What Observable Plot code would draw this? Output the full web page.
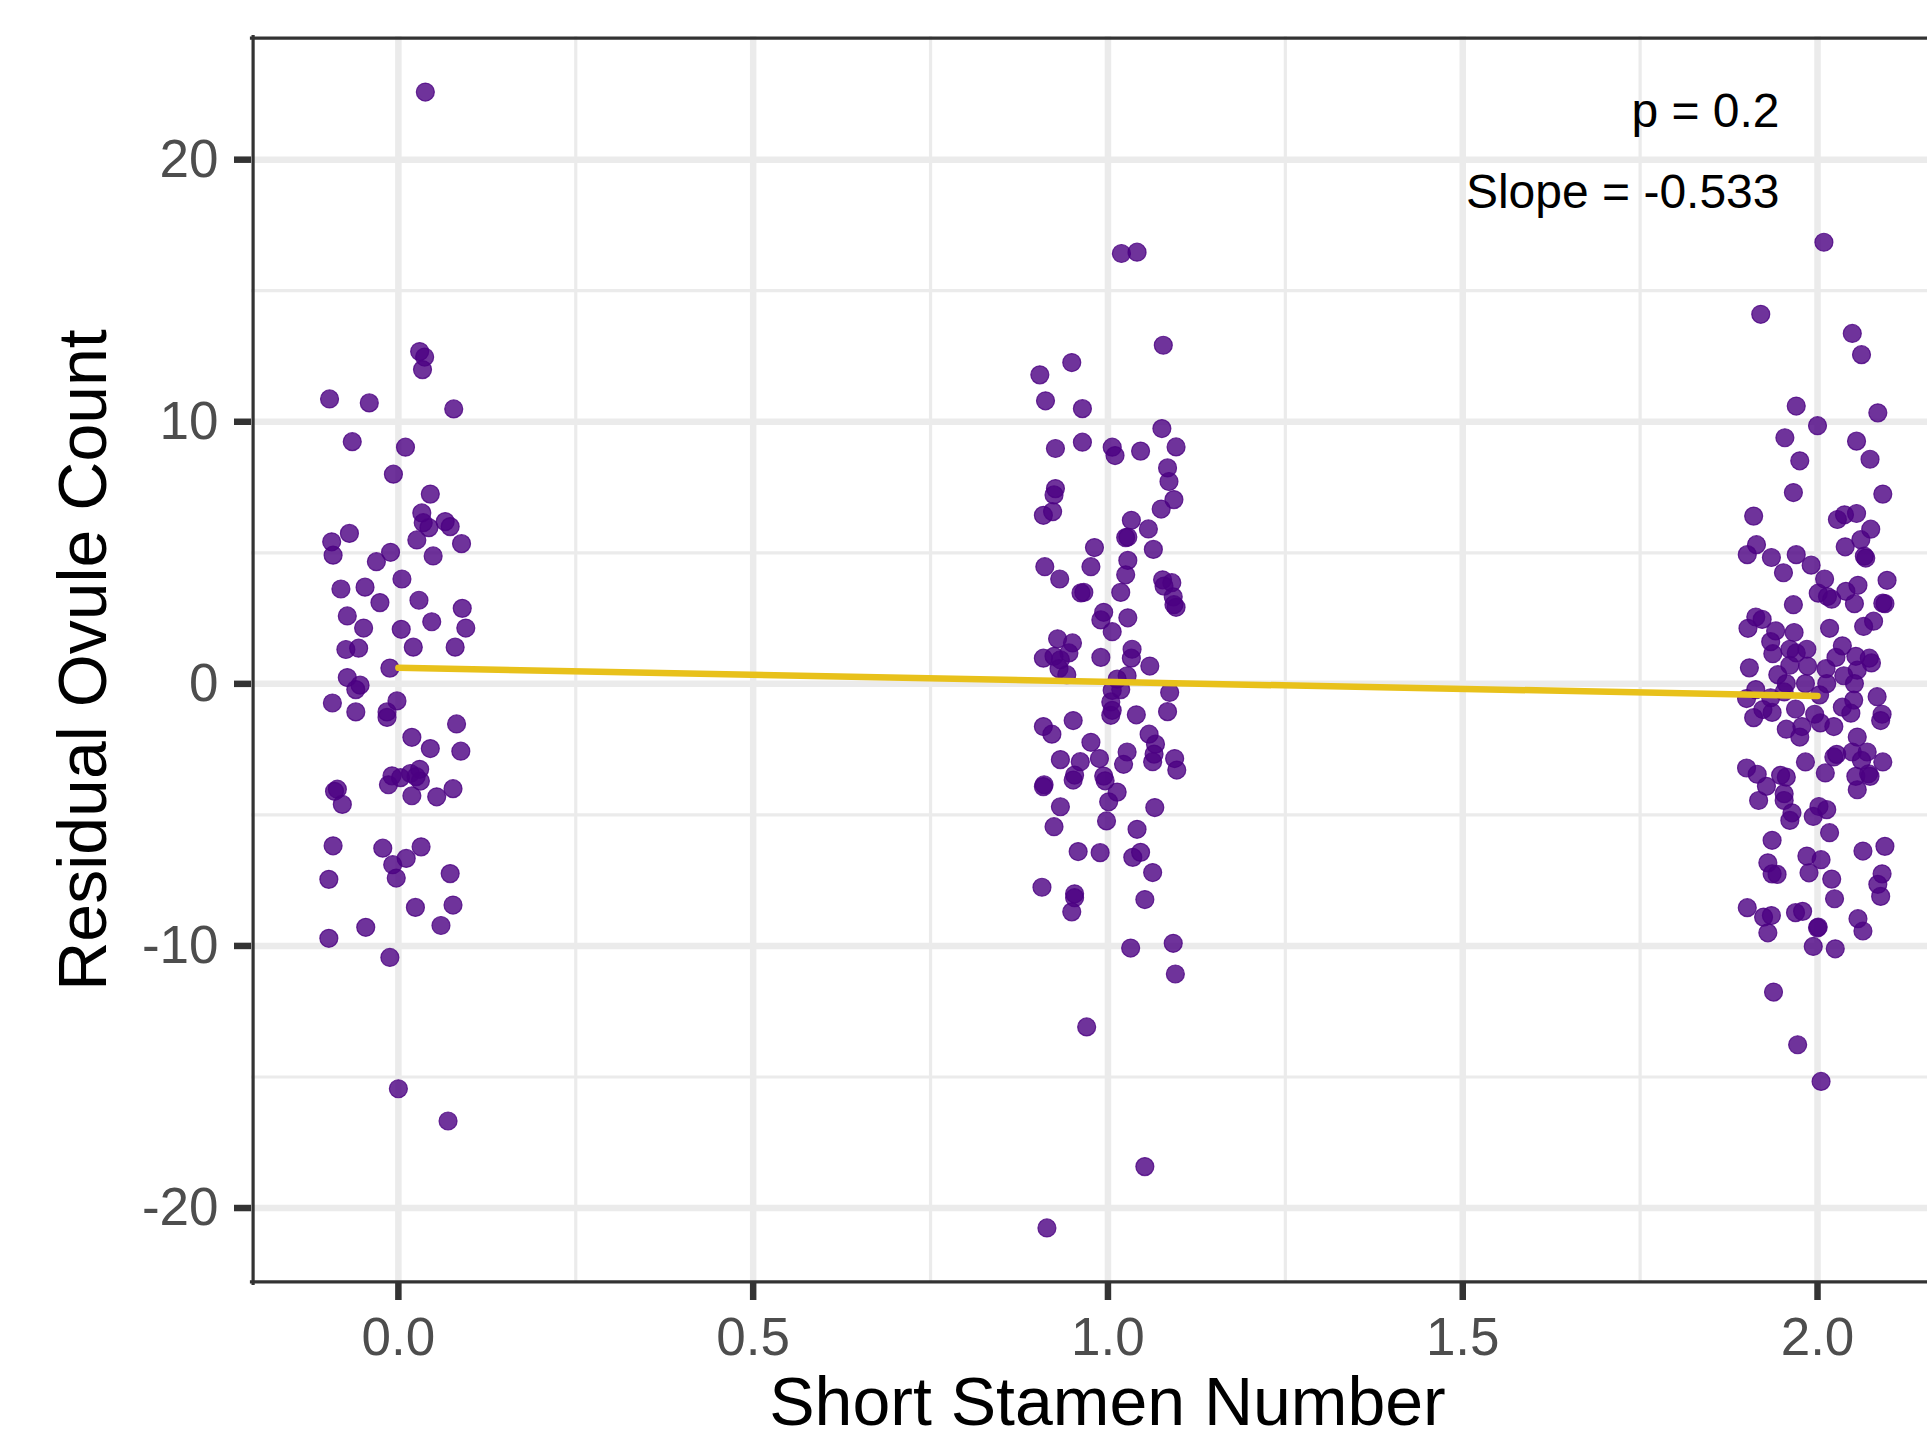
<!DOCTYPE html>
<html><head><meta charset="utf-8">
<script src="https://cdn.jsdelivr.net/npm/d3@7"></script>
<script src="https://cdn.jsdelivr.net/npm/@observablehq/plot@0.6"></script>
<style>
html,body{margin:0;padding:0;background:#fff;overflow:hidden;}
svg{display:block;}
</style></head><body><div id="chart"></div>
<script>
// Group: 0 short stamens (jittered x, residual ovule count)
const g0x = [0.038,0.030,0.037,0.034,-0.097,-0.041,0.078,-0.065,0.010,-0.007,0.045,0.033,0.035,0.043,0.066,0.073,0.026,0.089,-0.069,-0.094,-0.092,-0.011,-0.031,0.049,0.005,-0.081,-0.047,
 -0.026,0.029,0.090,-0.072,-0.049,0.004,0.047,0.095,-0.074,-0.056,0.021,0.080,-0.012,-0.072,-0.054,-0.060,-0.093,-0.002,-0.060,-0.016,-0.016,0.082,0.019,0.045,0.088,-0.086,-0.090,-0.079,-0.009,-0.014,0.003,0.017,0.030,0.031,0.025,0.019,0.054,0.077,-0.092,-0.022,0.032,0.011,-0.008,-0.003,-0.098,0.073,0.024,0.077,-0.046,0.060,-0.098,-0.012,0.000,0.070];
const g0y = [22.58,12.68,12.47,11.99,10.87,10.72,10.49,9.24,9.03,8.00,7.24,6.52,6.15,5.96,6.19,6.00,5.49,5.35,5.74,5.42,4.91,5.02,4.66,4.88,4.00,3.62,3.69,
 3.10,3.19,2.88,2.59,2.13,2.08,2.37,2.13,1.31,1.36,1.40,1.40,0.60,0.24,-0.05,-0.22,-0.73,-0.65,-1.07,-1.07,-1.28,-1.53,-2.04,-2.47,-2.57,-4.02,-4.10,-4.60,-3.51,-3.85,-3.58,-3.42,-3.26,-3.71,-3.54,-4.27,-4.31,-4.00,-6.18,-6.27,-6.22,-6.66,-6.90,-7.41,-7.46,-7.24,-8.53,-8.44,-9.29,-9.22,-9.71,-10.44,-15.45,-16.68];

// Group: 1 short stamen
const g1x = [1.019,1.041,1.078,0.949,0.904,0.912,0.964,1.076,0.926,0.964,1.006,1.010,1.046,1.096,1.084,1.086,1.093,1.075,0.926,0.924,0.909,0.922,1.033,1.057,1.025,1.028,1.064,0.981,0.976,0.911,0.932,1.028,1.025,1.018,0.966,0.962,1.077,1.090,1.079,1.092,1.096,1.093,0.994,0.990,1.006,1.028,0.929,0.950,0.945,0.909,0.924,0.933,0.931,0.942,0.990,1.034,1.033,1.059,1.027,1.013,1.018,1.006,1.004,1.004,1.006,1.087,1.084,1.040,0.951,0.909,0.921,0.976,1.058,1.067,
 0.933,0.961,0.988,1.027,1.022,1.063,1.065,1.094,1.097,0.953,0.951,0.909,0.910,0.994,0.996,1.013,1.001,0.933,1.066,0.924,0.998,1.041,0.958,0.989,1.035,1.046,1.063,0.907,0.953,0.953,0.949,1.052,1.032,1.092,1.095,0.970,1.052,0.914];
const g1y = [16.42,16.47,12.92,12.26,11.79,10.80,10.50,9.74,8.98,9.22,9.03,8.71,8.88,9.04,8.24,7.72,7.03,6.67,7.45,7.21,6.43,6.57,6.24,5.91,5.58,5.60,5.13,5.20,4.47,4.47,4.00,4.71,4.16,3.49,3.49,3.47,3.97,3.86,3.73,3.32,2.92,3.02,2.73,2.44,1.99,2.52,1.72,1.56,1.18,0.98,1.05,0.92,0.58,0.35,1.01,1.32,0.98,0.68,0.31,0.18,-0.22,-0.25,-0.69,-1.20,-1.01,-0.33,-1.06,-1.18,-1.40,-1.63,-1.92,-2.23,-1.92,-2.30,
 -2.89,-2.97,-2.85,-2.60,-3.07,-2.97,-2.68,-2.85,-3.29,-3.48,-3.67,-3.92,-3.85,-3.52,-3.70,-4.13,-4.50,-4.69,-4.72,-5.45,-5.23,-5.55,-6.40,-6.44,-6.62,-6.43,-7.20,-7.76,-8.01,-8.16,-8.70,-8.23,-10.08,-9.90,-11.07,-13.09,-18.42,-20.76];

// Group: 2 short stamens
const g2x = [2.009,1.920,2.049,2.062,1.970,2.085,2.000,1.954,2.055,1.975,2.074,1.966,2.092,1.910,2.028,2.038,2.055,2.075,2.061,2.039,2.066,2.068,1.914,1.901,1.935,1.970,1.991,1.952,2.010,2.001,2.020,2.014,2.040,2.057,2.052,2.098,2.092,2.095,1.966,1.913,1.922,1.902,1.941,1.967,2.017,2.079,2.065,1.934,1.937,1.961,1.970,1.985,1.961,1.986,1.904,1.944,2.012,2.026,2.035,2.054,2.073,2.076,2.056,2.037,2.052,2.013,1.983,1.956,1.913,1.900,1.934,1.953,2.003,2.051,2.035,2.084,2.091,2.089,1.969,1.936,1.923,1.910,1.996,2.004,2.023,1.956,1.978,1.975,2.056,
 2.047,2.023,2.027,2.049,2.070,2.062,2.092,1.983,2.011,1.900,1.915,1.948,1.956,2.054,2.072,2.074,2.056,1.928,1.917,1.953,1.953,1.964,1.961,2.002,1.994,2.013,2.017,1.936,2.064,2.095,1.930,1.936,1.943,1.985,2.005,1.988,2.020,2.091,2.085,2.089,2.024,1.901,1.924,1.935,1.930,1.969,1.979,2.001,2.000,2.057,2.064,1.994,2.025,1.938,1.972,2.005];
const g2y = [16.85,14.10,13.37,12.56,10.60,10.34,9.85,9.39,9.26,8.51,8.57,7.30,7.24,6.40,6.27,6.45,6.50,5.90,5.50,5.23,4.87,4.80,5.31,4.93,4.82,4.93,4.53,4.24,4.00,3.46,3.23,3.33,3.53,3.76,3.06,3.95,3.08,3.06,3.02,2.55,2.46,2.12,2.02,1.96,2.12,2.39,2.19,1.61,1.15,1.32,1.18,1.32,0.71,0.68,0.61,0.35,0.58,1.01,1.45,1.05,0.98,0.80,0.52,0.31,0.01,0.01,0.01,0.01,-0.22,-0.56,-0.53,-0.31,-0.42,-0.62,-0.89,-0.49,-1.16,-1.40,-0.96,-1.09,-0.98,-1.29,-1.16,-1.49,-1.63,-1.73,-1.63,-2.03,-2.03,
 -1.12,-2.79,-2.69,-2.60,-2.60,-2.92,-2.98,-2.98,-3.40,-3.21,-3.45,-3.49,-3.56,-3.53,-3.43,-3.53,-4.04,-3.91,-4.45,-4.19,-4.45,-4.92,-5.21,-4.68,-5.06,-4.80,-5.68,-5.97,-6.38,-6.20,-6.83,-7.25,-7.27,-6.57,-6.71,-7.21,-7.45,-7.25,-7.65,-8.11,-8.20,-8.54,-8.90,-8.84,-9.50,-8.73,-8.68,-9.28,-9.31,-8.96,-9.43,-10.02,-10.11,-11.76,-13.77,-15.17];

// Fitted regression line end points
const lineX = [0, 2];
const lineY = [0.61, -0.46];

// Ticks
const xTicks = [0, 0.5, 1, 1.5, 2];
const xTickLabels = ["0.0", "0.5", "1.0", "1.5", "2.0"];
const xMinor = [0.25, 0.75, 1.25, 1.75];
const yTicks = [-20, -10, 0, 10, 20];
const yTickLabels = ["-20", "-10", "0", "10", "20"];
const yMinor = [-15, -5, 5, 15];

const xTitle = "Short Stamen Number";
const yTitle = "Residual Ovule Count";
const statP = "p = 0.2";
const statSlope = "Slope = -0.533";

const points = [];
[[g0x, g0y], [g1x, g1y], [g2x, g2y]].forEach(([xs, ys]) =>
  xs.forEach((x, i) => points.push({x, y: ys[i]})));
const fit = lineX.map((x, i) => ({x, y: lineY[i]}));

const font = "'Liberation Sans', Arial, Helvetica, sans-serif";
const grey = "#ebebeb";
const dark = "#333333";

const chart = Plot.plot({
  width: 1927, height: 1440,
  marginLeft: 251, marginRight: 0, marginTop: 36, marginBottom: 157,
  style: {fontFamily: font, background: "#ffffff"},
  x: {domain: [-0.207, 2.155]},
  y: {domain: [-22.88, 24.7]},
  marks: [
    Plot.gridX({ticks: xMinor, stroke: grey, strokeOpacity: 1, strokeWidth: 3.2}),
    Plot.gridY({ticks: yMinor, stroke: grey, strokeOpacity: 1, strokeWidth: 3.2}),
    Plot.gridX({ticks: xTicks, stroke: grey, strokeOpacity: 1, strokeWidth: 6.5}),
    Plot.gridY({ticks: yTicks, stroke: grey, strokeOpacity: 1, strokeWidth: 6.5}),
    Plot.dot(points, {x: "x", y: "y", r: 9, fill: "#4B0082", fillOpacity: 0.8,
      stroke: "#4B0082", strokeOpacity: 0.8, strokeWidth: 1.2}),
    Plot.line(fit, {x: "x", y: "y", stroke: "#E8C11B", strokeWidth: 6.5}),
    Plot.frame({anchor: "top", stroke: dark, strokeWidth: 3.2, dy: 1.6}),
    Plot.frame({anchor: "bottom", stroke: dark, strokeWidth: 3.2, dy: -1.6}),
    Plot.frame({anchor: "left", stroke: dark, strokeWidth: 3.2, dx: 1.6}),
    Plot.axisX({ticks: xTicks, tickFormat: d => xTickLabels[xTicks.indexOf(d)],
      tickSize: 17, tickPadding: 17, strokeWidth: 6.5, stroke: dark,
      fill: "#4d4d4d", fontSize: 53, label: null}),
    Plot.axisY({ticks: yTicks, tickFormat: d => yTickLabels[yTicks.indexOf(d)],
      tickSize: 17, tickPadding: 16, strokeWidth: 6.5, stroke: dark,
      fill: "#4d4d4d", fontSize: 53, label: null}),
    Plot.text([xTitle], {text: d => d, frameAnchor: "bottom", dx: 18, dy: 120,
      lineAnchor: "middle", fontSize: 68, fill: "#000000"}),
    Plot.text([yTitle], {text: d => d, frameAnchor: "left", dx: -167, rotate: -90,
      lineAnchor: "middle", textAnchor: "middle", fontSize: 68, fill: "#000000"}),
    Plot.text([statP], {text: d => d, frameAnchor: "top-right", dx: -148, dy: 75,
      textAnchor: "end", lineAnchor: "middle", fontSize: 48, fill: "#000000"}),
    Plot.text([statSlope], {text: d => d, frameAnchor: "top-right", dx: -148, dy: 156,
      textAnchor: "end", lineAnchor: "middle", fontSize: 48, fill: "#000000"})
  ]
});
document.getElementById("chart").appendChild(chart);
</script>
</body></html>
